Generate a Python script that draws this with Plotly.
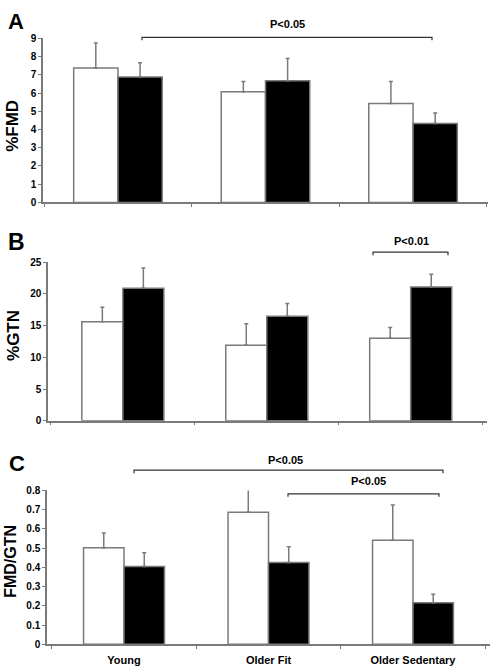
import plotly.graph_objects as go

categories = ["Young", "Older Fit", "Older Sedentary"]

fmd_white = [7.37, 6.07, 5.43]
fmd_white_err = [1.38, 0.57, 1.20]
fmd_black = [6.88, 6.68, 4.33]
fmd_black_err = [0.79, 1.22, 0.57]

gtn_white = [15.6, 11.9, 13.0]
gtn_white_err = [2.3, 3.4, 1.7]
gtn_black = [20.9, 16.5, 21.1]
gtn_black_err = [3.2, 2.0, 2.0]

ratio_white = [0.502, 0.686, 0.541]
ratio_white_err = [0.077, 0.122, 0.183]
ratio_black = [0.405, 0.425, 0.216]
ratio_black_err = [0.071, 0.082, 0.044]

W, H = 492, 668
GREY = "#7a7a7a"
FONT = "Arial, Liberation Sans, sans-serif"


def px(x):
    return x / W


def py(y):
    return 1 - y / H


fig = go.Figure()

panels = [
    ("x", "y", fmd_white, fmd_white_err, fmd_black, fmd_black_err, 0.30),
    ("x2", "y2", gtn_white, gtn_white_err, gtn_black, gtn_black_err, 0.285),
    ("x3", "y3", ratio_white, ratio_white_err, ratio_black, ratio_black_err, 0.28),
]

for xa, ya, wv, we, bv, be, w in panels:
    for vals, errs, fill, off in ((wv, we, "white", -w), (bv, be, "black", 0)):
        fig.add_trace(go.Bar(
            x=categories, y=vals, xaxis=xa, yaxis=ya,
            width=w, offset=off,
            marker=dict(color=fill, line=dict(color=GREY, width=1.5)),
            error_y=dict(type="data", array=errs, arrayminus=[0] * len(errs),
                         symmetric=False, color=GREY, thickness=1.5, width=2),
            showlegend=False, hoverinfo="skip",
        ))

tickfont = dict(family=FONT, size=10, color="black", weight="bold")

def xaxis(domain, rng, anchor, labels):
    return dict(domain=domain, range=rng, anchor=anchor, type="category",
                showline=True, linecolor=GREY, linewidth=1.5,
                ticks="outside", tickson="boundaries", ticklen=3, tickcolor=GREY,
                showgrid=False, zeroline=False, showticklabels=labels,
                ticklabelstandoff=5,
                tickfont=dict(family=FONT, size=11, color="black", weight="bold"))


def yaxis(domain, rng, dtick, anchor):
    return dict(domain=domain, range=rng, dtick=dtick, anchor=anchor,
                showline=True, linecolor=GREY, linewidth=1.5,
                ticks="outside", ticklen=3, tickcolor=GREY,
                showgrid=False, zeroline=False, tickfont=tickfont)


fig.update_layout(
    width=W, height=H,
    margin=dict(l=0, r=0, t=0, b=0),
    paper_bgcolor="white", plot_bgcolor="white",
    barmode="overlay",
    xaxis=xaxis([px(43), px(488)], [-0.508, 2.508], "y", False),
    yaxis=yaxis([py(200), py(33)], [0, 9], 1, "x"),
    xaxis2=xaxis([px(48), px(487)], [-0.52, 2.53], "y2", False),
    yaxis2=yaxis([py(422.3), py(261)], [0, 25], 5, "x2"),
    xaxis3=xaxis([px(47), px(490)], [-0.533, 2.533], "y3", True),
    yaxis3=yaxis([py(650), py(493.3)], [0, 0.8], 0.1, "x3"),
)

annotations = []
# panel letters
for letter, x, y, s in (("A", 16, 16, 22), ("B", 16, 240, 23), ("C", 17, 466, 22)):
    annotations.append(dict(text=letter, x=px(x), y=py(y), xref="paper", yref="paper",
                            showarrow=False, xanchor="center", yanchor="middle",
                            font=dict(family=FONT, size=s, color="black", weight="bold")))
# y titles
for title, x, y, s in (("%FMD", 13, 122, 17), ("%GTN", 14, 336, 17), ("FMD/GTN", 11, 566, 16)):
    annotations.append(dict(text=title, x=px(x), y=py(y), xref="paper", yref="paper",
                            showarrow=False, textangle=-90, xanchor="center", yanchor="middle",
                            font=dict(family=FONT, size=s, color="black", weight="bold")))
# p-value labels
for t, x, y in (("P<0.05", 287, 18), ("P<0.01", 411, 239), ("P<0.05", 285, 462), ("P<0.05", 368, 484)):
    annotations.append(dict(text=t, x=px(x), y=py(y), xref="paper", yref="paper",
                            showarrow=False, xanchor="center", yanchor="middle",
                            font=dict(family=FONT, size=11, color="black", weight="bold")))
fig.update_layout(annotations=annotations)

shapes = []
for x1, x2, y in ((142, 432, 32), (373, 448, 250.7), (134, 443, 472.7), (288, 439, 496.7)):
    d = 3
    path = (f"M {px(x1)},{py(y + d)} L {px(x1)},{py(y)} "
            f"L {px(x2)},{py(y)} L {px(x2)},{py(y + d)}")
    shapes.append(dict(type="path", path=path, xref="paper", yref="paper",
                       line=dict(color="#333333", width=1.2)))
fig.update_layout(shapes=shapes)

fig.write_html(
    "out.html",
    config={"displayModeBar": False},
    post_script="document.body.style.margin='0';document.body.style.overflow='hidden';",
)
